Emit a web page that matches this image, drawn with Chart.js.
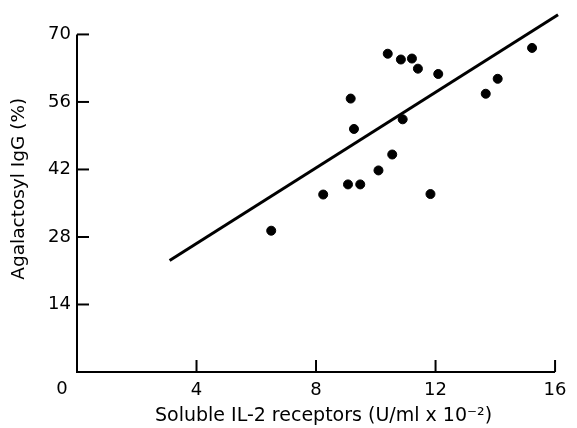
<!DOCTYPE html>
<html>
<head>
<meta charset="utf-8">
<script src="https://cdn.jsdelivr.net/npm/chart.js@4/dist/chart.umd.min.js"></script>
<style>
  html, body { margin: 0; padding: 0; background: #ffffff; }
  #wrap { width: 577px; height: 428px; }
</style>
</head>
<body>
<div id="wrap"><canvas id="scatterChart" width="577" height="428"></canvas></div>
<script>
// valores
const receptors = [10.40, 10.84, 11.21, 11.41, 12.09, 15.23, 14.08, 13.68, 9.16, 9.27, 10.90, 10.55, 10.09, 9.07, 9.48, 8.24, 11.83, 6.50];
const agalactosyl = [66.0, 64.8, 65.0, 62.9, 61.8, 67.2, 60.8, 57.7, 56.7, 50.4, 52.4, 45.1, 41.8, 38.9, 38.9, 36.8, 36.9, 29.3];
const fitX = [3.1, 16.1];
const fitY = [23.1, 74.1];
const xTicks = [0, 4, 8, 12, 16];
const yTicks = [14, 28, 42, 56, 70];

const FONT = 'DejaVu Sans';

// eixos desenhados a mao (linha + marcas para dentro)
const axisPlugin = {
    id: 'axisPlugin',
    afterDraw(chart) {
        const ctx = chart.ctx;
        const xs = chart.scales.x;
        const ys = chart.scales.y;
        const x0 = xs.getPixelForValue(0);
        const y0 = ys.getPixelForValue(0);
        ctx.save();
        ctx.strokeStyle = '#000';
        ctx.lineWidth = 2;
        ctx.beginPath();
        ctx.moveTo(x0, ys.getPixelForValue(70));
        ctx.lineTo(x0, y0);
        ctx.lineTo(xs.getPixelForValue(16), y0);
        ctx.stroke();
        yTicks.forEach(v => {
            const py = ys.getPixelForValue(v);
            ctx.beginPath();
            ctx.moveTo(x0, py);
            ctx.lineTo(x0 + 12, py);
            ctx.stroke();
        });
        xTicks.filter(v => v > 0).forEach(v => {
            const px = xs.getPixelForValue(v);
            ctx.beginPath();
            ctx.moveTo(px, y0);
            ctx.lineTo(px, y0 - 12);
            ctx.stroke();
        });
        // o "0" da origem fica um pouco a esquerda, como no original
        ctx.fillStyle = '#000';
        ctx.font = '18px "' + FONT + '"';
        ctx.textAlign = 'center';
        ctx.textBaseline = 'middle';
        ctx.fillText('0', x0 - 15, y0 + 17);
        ctx.restore();
    }
};

const ctx = document.getElementById('scatterChart').getContext('2d');
new Chart(ctx, {
    type: 'scatter',
    data: {
        datasets: [
            {
                label: 'Pacientes',
                data: receptors.map((x, i) => ({ x: x, y: agalactosyl[i] })),
                backgroundColor: '#000',
                borderColor: '#000',
                pointRadius: 4.5,
                pointHoverRadius: 4.5
            },
            {
                label: 'Regressao',
                data: fitX.map((x, i) => ({ x: x, y: fitY[i] })),
                showLine: true,
                borderColor: '#000',
                borderWidth: 3,
                pointRadius: 0,
                fill: false
            }
        ]
    },
    options: {
        responsive: false,
        animation: false,
        layout: { padding: { top: 4, right: 7, left: 0, bottom: 0 } },
        plugins: {
            legend: { display: false },
            tooltip: { enabled: false }
        },
        scales: {
            x: {
                type: 'linear',
                min: 0,
                max: 16.5,
                afterFit(scale) {
                    scale.height = 56;
                    scale.paddingLeft = 0;
                    scale.paddingRight = 0;
                },
                afterBuildTicks(scale) { scale.ticks = xTicks.map(v => ({ value: v })); },
                grid: { display: false, drawTicks: false },
                border: { display: false },
                ticks: {
                    color: '#000',
                    padding: 8,
                    font: { family: FONT, size: 18 },
                    callback: v => (v === 0 ? '' : String(v))
                },
                title: {
                    display: true,
                    text: 'Soluble IL-2 receptors (U/ml x 10⁻²)',
                    color: '#000',
                    font: { family: FONT, size: 19 },
                    padding: { top: 0, bottom: 1 }
                }
            },
            y: {
                type: 'linear',
                min: 0,
                max: 76,
                afterFit(scale) {
                    scale.width = 77;
                    scale.paddingTop = 0;
                    scale.paddingBottom = 0;
                },
                afterBuildTicks(scale) { scale.ticks = yTicks.map(v => ({ value: v })); },
                grid: { display: false, drawTicks: false },
                border: { display: false },
                ticks: {
                    color: '#000',
                    padding: 6,
                    font: { family: FONT, size: 18 },
                    callback: v => String(v)
                },
                title: {
                    display: true,
                    text: 'Agalactosyl IgG (%)',
                    color: '#000',
                    font: { family: FONT, size: 18.5 },
                    padding: { top: 8, bottom: 0 }
                }
            }
        }
    },
    plugins: [axisPlugin]
});
</script>
</body>
</html>
